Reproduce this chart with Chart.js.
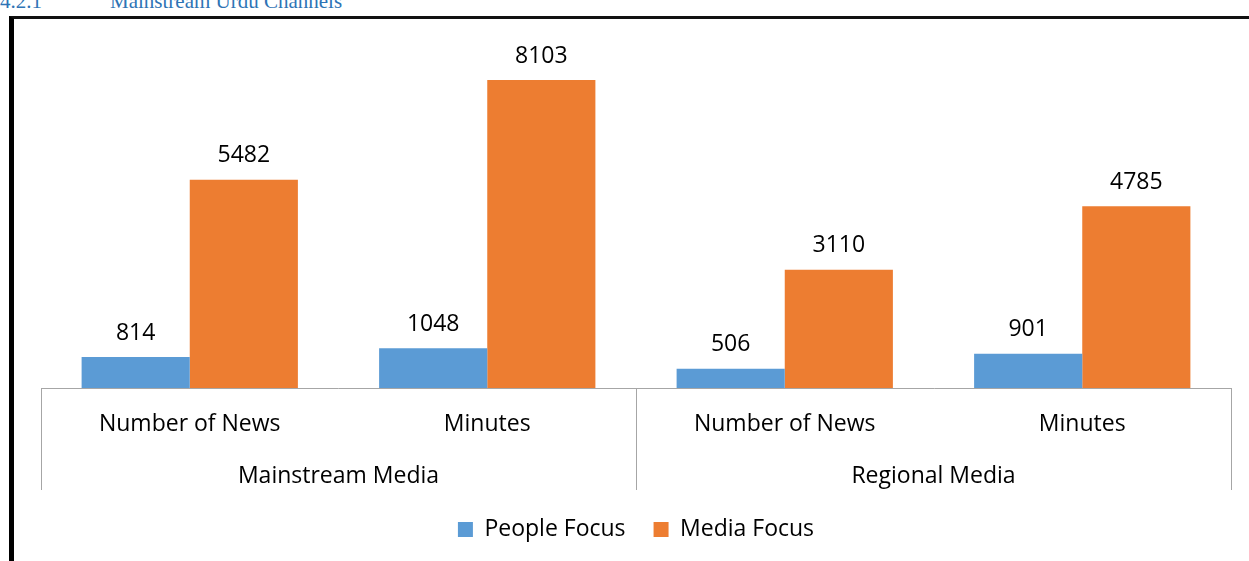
<!DOCTYPE html>
<html>
<head>
<meta charset="utf-8">
<script src="https://cdn.jsdelivr.net/npm/chart.js@4"></script>
<style>
  html, body { margin: 0; padding: 0; background: #fff; }
  body { width: 1249px; height: 561px; position: relative; overflow: hidden; }
  #heading { position: absolute; top: -9px; left: 0; font: 21px/21px "Liberation Serif", serif; color: #2E74B5; white-space: nowrap; }
  #heading .num { display: inline-block; width: 110px; }
  #frame { position: absolute; left: 9px; top: 16px; width: 1300px; height: 600px; border-left: 5px solid #000; border-top: 3px solid #111; }
  #wrap { position: absolute; left: 0; top: 0; width: 1249px; height: 561px; }
</style>
</head>
<body>
<div id="heading"><span class="num">4.2.1</span>Mainstream Urdu Channels</div>
<div id="frame"></div>
<div id="wrap"><canvas id="chart" width="1249" height="561"></canvas></div>
<script>
const categories = ['Number of News', 'Minutes', 'Number of News', 'Minutes'];
const groups = ['Mainstream Media', 'Regional Media'];
const peopleFocus = [814, 1048, 506, 901];
const mediaFocus = [5482, 8103, 3110, 4785];

const FONT = '"Open Sans", sans-serif';
const SIZE = 23;

// value labels above each bar
const valueLabels = {
  id: 'valueLabels',
  afterDatasetsDraw(chart) {
    const ctx = chart.ctx;
    ctx.save();
    ctx.font = SIZE + 'px ' + FONT;
    ctx.fillStyle = '#000';
    ctx.textAlign = 'center';
    ctx.textBaseline = 'middle';
    chart.data.datasets.forEach((ds, i) => {
      chart.getDatasetMeta(i).data.forEach((bar, j) => {
        ctx.fillText(ds.data[j], bar.x, bar.y - 24);
      });
    });
    ctx.restore();
  }
};

// vertical separators between the groups, below the axis
const groupLines = {
  id: 'groupLines',
  afterDraw(chart) {
    const x = chart.scales.x;
    const x2 = chart.scales.x2;
    const ctx = chart.ctx;
    const per = categories.length / groups.length;
    ctx.save();
    ctx.strokeStyle = '#A6A6A6';
    ctx.lineWidth = 1;
    for (let g = 0; g <= groups.length; g++) {
      let px;
      if (g === 0) px = x.left;
      else if (g === groups.length) px = x.right;
      else px = (x.getPixelForValue(g * per - 1) + x.getPixelForValue(g * per)) / 2;
      px = Math.round(px) + 0.5;
      ctx.beginPath();
      ctx.moveTo(px, x.top);
      ctx.lineTo(px, x2.bottom);
      ctx.stroke();
    }
    ctx.restore();
  }
};

const ctx = document.getElementById('chart').getContext('2d');
new Chart(ctx, {
  type: 'bar',
  data: {
    labels: categories,
    datasets: [
      { label: 'People Focus', data: peopleFocus, backgroundColor: '#5B9BD5' },
      { label: 'Media Focus', data: mediaFocus, backgroundColor: '#ED7D31' }
    ]
  },
  options: {
    responsive: false,
    animation: false,
    layout: { padding: { top: 46, left: 41, right: 18, bottom: 10 } },
    categoryPercentage: 0.727,
    barPercentage: 1,
    plugins: {
      legend: {
        position: 'bottom',
        labels: { boxWidth: 15, boxHeight: 15, padding: 28, color: '#000', font: { family: FONT, size: SIZE } }
      },
      tooltip: { enabled: false }
    },
    scales: {
      y: { display: false, min: 0, max: 9000 },
      x: {
        grid: { display: false },
        border: { display: true, color: '#A6A6A6', width: 1 },
        ticks: { color: '#000', padding: 15, maxRotation: 0, font: { family: FONT, size: SIZE } },
        afterFit(scale) { scale.height = 60; }
      },
      x2: {
        type: 'category',
        position: 'bottom',
        labels: groups,
        offset: true,
        grid: { display: false },
        border: { display: false },
        ticks: { color: '#000', padding: 7, maxRotation: 0, font: { family: FONT, size: SIZE } },
        afterFit(scale) { scale.height = 42; }
      }
    }
  },
  plugins: [valueLabels, groupLines]
});
</script>
</body>
</html>
